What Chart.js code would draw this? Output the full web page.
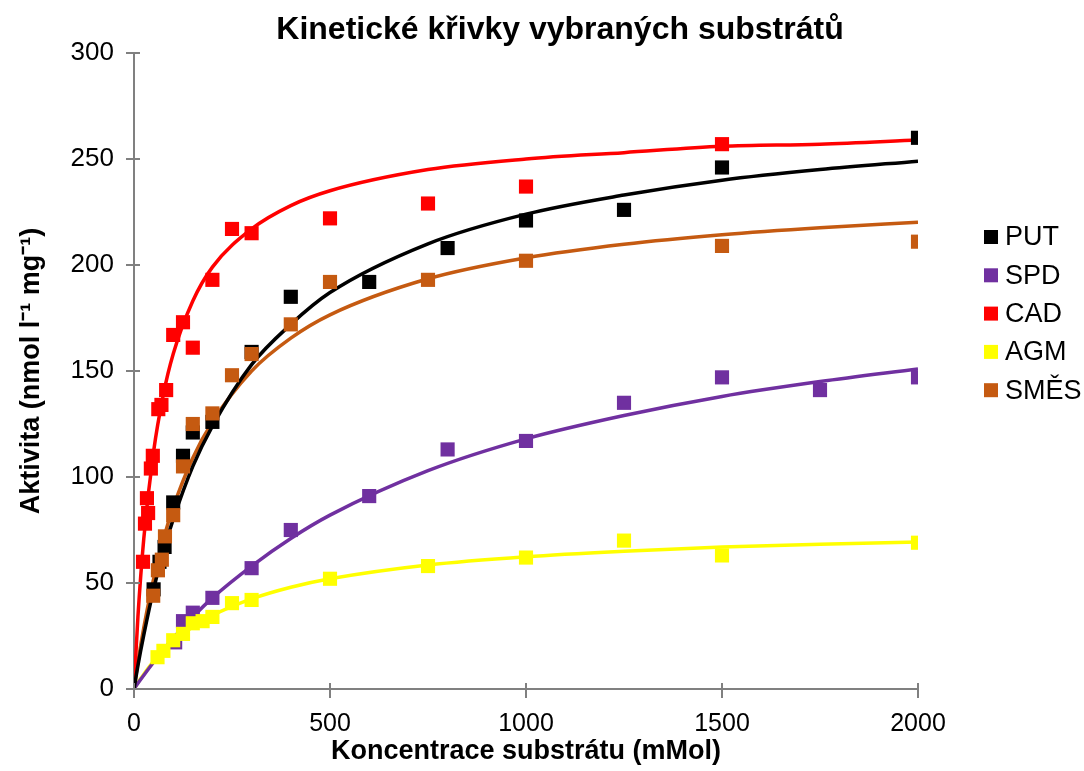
<!DOCTYPE html>
<html>
<head>
<meta charset="utf-8">
<script src="https://cdn.jsdelivr.net/npm/chart.js@4.4.0/dist/chart.umd.min.js"></script>
<style>
html,body{margin:0;padding:0;background:#fff;}
#wrap{width:1084px;height:771px;}
</style>
</head>
<body>
<div id="wrap"><canvas id="kin" width="1084" height="771"></canvas></div>
<script>
// measured values
var putX = [50, 65, 78, 100, 125, 150, 200, 300, 400, 600, 800, 1000, 1250, 1500, 2000];
var putY = [47, 60, 67, 88, 110, 121, 126, 159, 185, 192, 208, 221, 226, 246, 260];
var spdX = [105, 125, 150, 200, 300, 400, 600, 800, 1000, 1250, 1500, 1750, 2000];
var spdY = [22, 32, 36, 43, 57, 75, 91, 113, 117, 135, 147, 141, 147];
var cadX = [23, 28, 33, 36, 43, 48, 62, 70, 82, 100, 125, 150, 200, 250, 300, 500, 750, 1000, 1500];
var cadY = [60, 78, 90, 83, 104, 110, 132, 134, 141, 167, 173, 161, 193, 217, 215, 222, 229, 237, 257];
var agmX = [60, 75, 100, 125, 150, 175, 200, 250, 300, 500, 750, 1000, 1250, 1500, 2000];
var agmY = [15, 18, 23, 26, 31, 32, 34, 40.5, 42, 52, 58, 62, 70, 63, 69];
var smesX = [49, 61, 71, 79, 100, 125, 150, 200, 250, 300, 400, 500, 750, 1000, 1500, 2000];
var smesY = [44, 56, 61, 72, 82, 105, 125, 130, 148, 158, 172, 192, 193, 202, 209, 211];

// fitted curves
var curveX    = [0, 10, 25, 50, 75, 100, 150, 200, 300, 400, 500, 750, 1000, 1250, 1500, 1750, 2000];
var putCurve  = [0, 11, 25.5, 47, 65, 80, 105, 124, 153, 172, 187, 210, 224, 233, 240, 245, 249];
var spdCurve  = [0, 2.7, 6.5, 12.6, 18.4, 24, 34, 43, 58, 71, 82, 103, 118, 129, 138, 145, 151];
var cadCurve  = [0, 34, 71, 112, 139, 158, 183, 199, 217, 228, 235, 245, 250, 253, 256, 257, 259];
var agmCurve  = [0, 3, 7, 13, 18, 22.3, 29.3, 34.7, 42.5, 48, 52, 58.5, 62.4, 65, 67, 68.3, 69.3];
var smesCurve = [0, 12.6, 29, 52, 70.6, 85.7, 109, 126, 150, 165.5, 176.5, 193.5, 203.4, 209.8, 214.3, 217.6, 220.2];

var names  = ['PUT', 'SPD', 'CAD', 'AGM', 'SMĚS'];
var colors = ['#000000', '#7030A0', '#FF0000', '#FFFF00', '#C55A11'];
var xTicks = [0, 500, 1000, 1500, 2000];
var yTicks = [0, 50, 100, 150, 200, 250, 300];

function pairs(xs, ys){ return xs.map(function(v, i){ return {x: v, y: ys[i]}; }); }

var pts = [[putX, putY], [spdX, spdY], [cadX, cadY], [agmX, agmY], [smesX, smesY]];
var curves = [putCurve, spdCurve, cadCurve, agmCurve, smesCurve];

var datasets = [];
curves.forEach(function(c, i){
    datasets.push({
        label: names[i] + ' fit',
        data: pairs(curveX, c),
        showLine: true,
        borderColor: colors[i],
        borderWidth: 3.5,
        pointRadius: 0,
        cubicInterpolationMode: 'monotone',
        order: 20 + i
    });
});
pts.forEach(function(p, i){
    datasets.push({
        label: names[i],
        data: pairs(p[0], p[1]),
        showLine: false,
        pointStyle: 'rect',
        pointRadius: 10,
        pointBorderWidth: 0,
        backgroundColor: colors[i],
        borderColor: colors[i],
        order: 10 - i
    });
});

var FONT = 'Liberation Sans, Arial, sans-serif';
var NARROW = 'Liberation Sans Narrow, Arial Narrow, Liberation Sans, sans-serif';
Chart.defaults.font.family = FONT;
Chart.defaults.color = '#000';

var decor = {
    id: 'decor',
    afterDraw: function(chart){
        var ctx = chart.ctx, xs = chart.scales.x, ys = chart.scales.y;
        ctx.save();
        // inner halves of the tick marks
        ctx.strokeStyle = '#808080';
        ctx.lineWidth = 2;
        ctx.beginPath();
        yTicks.forEach(function(v){
            var p = ys.getPixelForValue(v);
            ctx.moveTo(xs.left, p); ctx.lineTo(xs.left + 6, p);
        });
        xTicks.forEach(function(v){
            var p = xs.getPixelForValue(v);
            ctx.moveTo(p, ys.bottom); ctx.lineTo(p, ys.bottom - 6);
        });
        ctx.stroke();
        // title
        ctx.fillStyle = '#000';
        ctx.font = 'bold 32px ' + FONT;
        ctx.textAlign = 'center';
        ctx.textBaseline = 'middle';
        ctx.fillText('Kinetické křivky vybraných substrátů', 560, 30);
        // legend
        ctx.font = '27px ' + FONT;
        ctx.textAlign = 'left';
        var top = 237, step = 38.3;
        names.forEach(function(n, i){
            var cy = top + i * step;
            ctx.fillStyle = colors[i];
            ctx.fillRect(984, cy - 7, 14, 14);
            ctx.fillStyle = '#000';
            ctx.fillText(n, 1005, cy + 1);
        });
        ctx.restore();
    }
};

new Chart(document.getElementById('kin'), {
    type: 'scatter',
    data: { datasets: datasets },
    options: {
        responsive: false,
        animation: false,
        layout: { padding: { left: 0, right: 166, top: 53, bottom: 0 } },
        plugins: {
            legend: { display: false },
            tooltip: { enabled: false },
            title: { display: false }
        },
        scales: {
            x: {
                type: 'linear',
                min: 0, max: 2000,
                afterFit: function(s){ s.height = 82; },
                afterBuildTicks: function(s){ s.ticks = xTicks.map(function(v){ return {value: v}; }); },
                grid: { drawOnChartArea: false, drawTicks: true, tickLength: 9, color: '#808080', lineWidth: 2 },
                border: { color: '#808080', width: 2 },
                ticks: {
                    font: { size: 25, family: NARROW },
                    padding: 11,
                    maxRotation: 0,
                    callback: function(v){ return String(v); }
                },
                title: {
                    display: true,
                    text: 'Koncentrace substrátu (mMol)',
                    font: { size: 27, weight: 'bold' },
                    padding: { top: 0, bottom: 3 }
                }
            },
            y: {
                type: 'linear',
                min: 0, max: 300,
                afterFit: function(s){ s.width = 134; },
                afterBuildTicks: function(s){ s.ticks = yTicks.map(function(v){ return {value: v}; }); },
                grid: { drawOnChartArea: false, drawTicks: true, tickLength: 8, color: '#808080', lineWidth: 2 },
                border: { color: '#808080', width: 2 },
                ticks: { font: { size: 26 }, padding: 12, callback: function(v){ return String(v); } },
                title: {
                    display: true,
                    text: 'Aktivita (nmol l⁻¹ mg⁻¹)',
                    font: { size: 27, weight: 'bold' },
                    padding: { top: 15, bottom: 0 }
                }
            }
        }
    },
    plugins: [decor]
});
</script>
</body>
</html>
